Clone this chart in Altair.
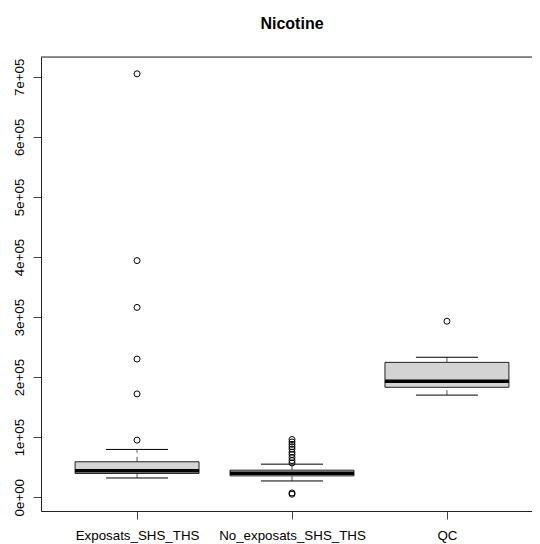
import altair as alt
import pandas as pd

# ---- data ----
categories = ["Exposats_SHS_THS", "No_exposats_SHS_THS", "QC"]
lower_whisker = [32000, 27000, 170000]
q1 = [39500, 35500, 183000]
median = [44000, 40000, 193000]
q3 = [59000, 45000, 224500]
upper_whisker = [79500, 55000, 233000]

outliers_exposats = [705000, 394000, 316000, 230000, 172000, 95000]
outliers_no_exposats = [96000, 92000, 88000, 84000, 80000, 75000, 71000,
                        66000, 61000, 57000, 7000, 5000]
outliers_qc = [293000]

ytick_values = [0, 100000, 200000, 300000, 400000, 500000, 600000, 700000]
ytick_labels = ["0e+00", "1e+05", "2e+05", "3e+05", "4e+05", "5e+05", "6e+05", "7e+05"]
title_text = "Nicotine"

# ---- tables ----
boxes = pd.DataFrame({
    "cat": categories,
    "pos": [i + 1 for i in range(len(categories))],
    "lo": lower_whisker, "q1": q1, "med": median, "q3": q3, "hi": upper_whisker,
})
out_rows = []
for i, vals in enumerate([outliers_exposats, outliers_no_exposats, outliers_qc]):
    for v in vals:
        out_rows.append({"cat": categories[i], "pos": i + 1, "v": v})
outs = pd.DataFrame(out_rows)

FONT = "Liberation Sans"
BOX_HALF = 0.4
STAPLE_HALF = 0.2
n = len(categories)

FULL_W = 502          # full plot region width (right edge falls outside the window)
W = 491               # visible part
H = 454
x0, x1 = 0.5 - 0.04 * n, n + 0.5 + 0.04 * n
xdom = [x0, x0 + (x1 - x0) * W / FULL_W]
allv = lower_whisker + outliers_exposats + outliers_no_exposats + outliers_qc + upper_whisker
vmin, vmax = min(allv), max(allv)
ypad = 0.04 * (vmax - vmin)
ydom = [vmin - ypad, vmax + ypad]

xlab_expr = "{" + ",".join(f"'{i+1}':'{c}'" for i, c in enumerate(categories)) + "}[datum.value]"
ylab_expr = "{" + ",".join(f"'{v}':'{l}'" for v, l in zip(ytick_values, ytick_labels)) + "}[datum.value]"

xscale = alt.Scale(domain=xdom, nice=False, zero=False)
yscale = alt.Scale(domain=ydom, nice=False, zero=False)

xaxis = alt.Axis(values=[i + 1 for i in range(n)], labelExpr=xlab_expr, title=None,
                 grid=False, domain=True, domainColor="#222", domainWidth=1,
                 tickSize=8, tickColor="#444",
                 labelFont=FONT, labelFontSize=13.33, labelColor="black",
                 labelPadding=20, labelBaseline="alphabetic", labelAlign="center")
yaxis = alt.Axis(values=ytick_values, labelExpr=ylab_expr, title=None,
                 grid=False, domain=True, domainColor="#222", domainWidth=1,
                 tickSize=8, tickColor="#444",
                 labelFont=FONT, labelFontSize=13.33, labelColor="black",
                 labelAngle=270, labelAlign="center", labelBaseline="alphabetic",
                 labelPadding=10)

base = alt.Chart(boxes).transform_calculate(
    xl=f"datum.pos - {BOX_HALF}", xr=f"datum.pos + {BOX_HALF}",
    sl=f"datum.pos - {STAPLE_HALF}", sr=f"datum.pos + {STAPLE_HALF}",
)

whisk_up = base.mark_rule(color="#555", strokeWidth=1, strokeDash=[5, 4]).encode(
    x=alt.X("pos:Q", scale=xscale, axis=xaxis),
    y=alt.Y("q3:Q", scale=yscale, axis=yaxis),
    y2="hi:Q",
)
whisk_lo = base.mark_rule(color="#555", strokeWidth=1, strokeDash=[5, 4]).encode(
    x=alt.X("pos:Q", scale=xscale), y=alt.Y("lo:Q", scale=yscale), y2="q1:Q",
)
cap_hi = base.mark_rule(color="black", strokeWidth=1).encode(
    x=alt.X("sl:Q", scale=xscale), x2="sr:Q", y=alt.Y("hi:Q", scale=yscale),
)
cap_lo = base.mark_rule(color="black", strokeWidth=1).encode(
    x=alt.X("sl:Q", scale=xscale), x2="sr:Q", y=alt.Y("lo:Q", scale=yscale),
)
box = base.mark_rect(fill="#D3D3D3", stroke="#222", strokeWidth=1).encode(
    x=alt.X("xl:Q", scale=xscale), x2="xr:Q",
    y=alt.Y("q1:Q", scale=yscale), y2="q3:Q",
)
med = base.mark_rule(color="black", strokeWidth=3.5).encode(
    x=alt.X("xl:Q", scale=xscale), x2="xr:Q", y=alt.Y("med:Q", scale=yscale),
)
pts = alt.Chart(outs).mark_point(shape="circle", filled=False, color="black",
                                 strokeWidth=1, size=36, opacity=1).encode(
    x=alt.X("pos:Q", scale=xscale), y=alt.Y("v:Q", scale=yscale),
)
# top edge of the plot frame
top_edge = alt.Chart(pd.DataFrame({"k": [0]})).mark_rule(color="#222", strokeWidth=1).encode(
    x=alt.value(0), x2=alt.value(W), y=alt.value(0),
)
title = alt.Chart(pd.DataFrame({"t": [title_text]})).mark_text(
    font=FONT, fontSize=16, fontWeight="bold", color="black",
    align="center", baseline="alphabetic",
).encode(x=alt.value(FULL_W / 2), y=alt.value(-28.5), text="t:N")

chart = alt.layer(whisk_up, whisk_lo, cap_hi, cap_lo, box, med, pts, top_edge, title).properties(
    width=W, height=H,
    autosize=alt.AutoSizeParams(type="none"),
    padding={"left": 33, "top": 49, "right": 0, "bottom": 33},
).configure_view(stroke=None).configure(background="white")

chart.save("out.html", embed_options={"renderer": "svg", "actions": False})
